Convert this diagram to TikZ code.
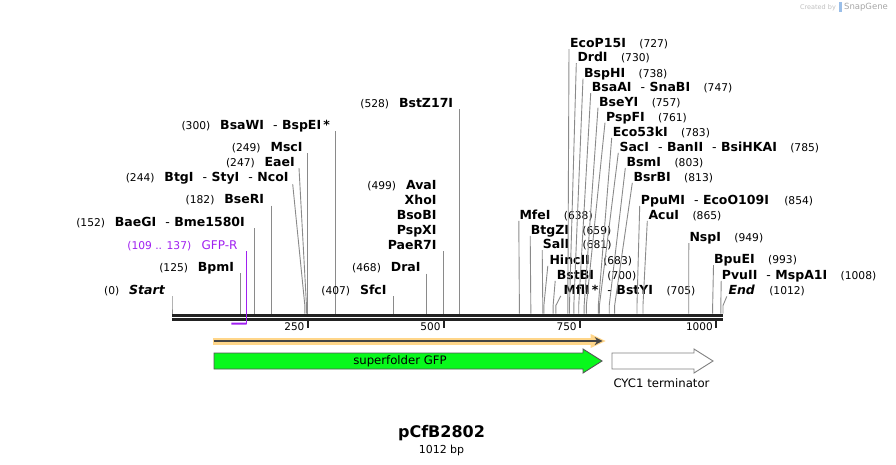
\documentclass[tikz,border=0pt]{standalone}
\usepackage{fontspec}
\setmainfont{DejaVu Sans}[ItalicFont={DejaVu Sans Oblique},BoldItalicFont={DejaVu Sans Bold Oblique}]
\usetikzlibrary{positioning,calc,arrows.meta}

\definecolor{sitegray}{HTML}{8A8A8A}
\definecolor{bbdark}{HTML}{222222}
\definecolor{primerpurple}{RGB}{160,32,240}
\definecolor{gfpgreen}{HTML}{08F81C}
\definecolor{orfband}{HTML}{FFD68A}
\definecolor{arrowgray}{HTML}{555555}

\newcommand{\dsh}{\hspace{9pt}{\mdseries -}\hspace{4.5pt}}

\begin{document}
\begin{tikzpicture}[x=1pt,y=-1pt,>=Stealth,
  enz/.style={font=\fontsize{12.5}{14}\selectfont\bfseries,inner sep=0pt},
  enzL/.style={enz,anchor=base east},
  enzR/.style={enz,anchor=base west},
  num/.style={font=\fontsize{10.7}{13}\selectfont,inner sep=0pt},
  primertxt/.style={text=primerpurple,inner sep=0pt},
  cut/.style={draw=sitegray,line width=0.9pt,
    to path={-- ([yshift=8pt]\tikztotarget) -- (\tikztotarget)}},
  tickmark/.style={draw=bbdark,line width=2pt},
  ticklab/.style={font=\fontsize{10.5}{13}\selectfont,inner sep=0pt,anchor=east},
  feat/.style={font=\fontsize{11.7}{14}\selectfont,inner sep=0pt}]

\useasboundingbox (0,0) rectangle (896,464);

%------------------------
% Backbone, 1012 bp
%------------------------
\coordinate (bbL) at (172,313.5);
\coordinate (bbR) at (723,313.5);
\foreach \p in {0,77,109,125,137,152,182,244,247,249,250,300,407,468,499,500,528,
  638,659,681,683,700,705,727,730,738,747,750,757,761,783,785,791,803,807,813,
  854,865,949,993,1000,1008,1012}
  \coordinate (p\p) at ($(bbL)!\p/1012!(bbR)$);

\draw[bbdark,line width=3pt] ([yshift=-1.5pt]bbL) -- ([yshift=-1.5pt]bbR);
\draw[bbdark,line width=2.5pt] ([yshift=-6.2pt]bbL) -- ([yshift=-6.2pt]bbR);

% ticks
\foreach \t in {250,500,750,1000} {
  \draw[tickmark] ([yshift=-7pt]p\t) -- ++(0,7);
  \node[ticklab] (tk\t) at ($(p\t)+(-3.5,13.5)$) {\t};
}

%------------------------
% Sites, left side
%------------------------
\node[enzL] (start) at (165,294.4) {\itshape Start};
\node[num,base left=9.5pt of start] (n0) {(0)};
\draw[cut] ($(p0 |- start.base)+(0,2)$) to (p0);

\node[enzL] (bpmi) at (234.3,271.1) {BpmI};
\node[num,base left=9.5pt of bpmi] (n125) {(125)};
\draw[cut] ($(p125 |- bpmi.base)+(0,2)$) to (p125);

\node[enzL] (baegi) at (245,226.1) {BaeGI\dsh Bme1580I};
\node[num,base left=9.5pt of baegi] (n152) {(152)};
\draw[cut] ($(p152 |- baegi.base)+(0,2)$) to (p152);

\node[enzL] (bseri) at (264.3,203.7) {BseRI};
\node[num,base left=9.5pt of bseri] (n182) {(182)};
\draw[cut] ($(p182 |- bseri.base)+(0,2)$) to (p182);

\node[enzL] (btgi) at (288.7,181.1) {BtgI\dsh StyI\dsh NcoI};
\node[num,base left=9.5pt of btgi] (n244) {(244)};
\draw[cut] ($(btgi.base east)+(4,3)$) to (p244);

\node[enzL] (eaei) at (295,166.1) {EaeI};
\node[num,base left=9.5pt of eaei] (n247) {(247)};
\draw[cut] ($(eaei.base east)+(4,2)$) to (p247);

\node[enzL] (msci) at (302.7,151.1) {MscI};
\node[num,base left=9.5pt of msci] (n249) {(249)};
\draw[cut] ($(p249 |- msci.base)+(0,2)$) to (p249);

\node[enzL] (bsawi) at (330,129.4) {BsaWI\dsh BspEI\,*};
\node[num,base left=9.5pt of bsawi] (n300) {(300)};
\draw[cut] ($(p300 |- bsawi.base)+(0,2)$) to (p300);

\node[enzL] (sfci) at (386.7,294.4) {SfcI};
\node[num,base left=9.5pt of sfci] (n407) {(407)};
\draw[cut] ($(p407 |- sfci.base)+(0,2)$) to (p407);

\node[enzL] (drai) at (420.7,271.7) {DraI};
\node[num,base left=9.5pt of drai] (n468) {(468)};
\draw[cut] ($(p468 |- drai.base)+(0,2)$) to (p468);

% five names on one site
\node[enzL] (avai) at (436.7,189.4) {AvaI};
\node[enzL] (xhoi) at ([yshift=-15pt]avai.base east) {XhoI};
\node[enzL] (bsobi) at ([yshift=-15pt]xhoi.base east) {BsoBI};
\node[enzL] (pspxi) at ([yshift=-15pt]bsobi.base east) {PspXI};
\node[enzL] (paer) at ([yshift=-15pt]pspxi.base east) {PaeR7I};
\node[num,base left=9.5pt of avai] (n499) {(499)};
\draw[cut] ($(p499 |- paer.base)+(0,2)$) to (p499);

\node[enzL] (bstz) at (453.3,107.1) {BstZ17I};
\node[num,base left=9.5pt of bstz] (n528) {(528)};
\draw[cut] ($(p528 |- bstz.base)+(0,2)$) to (p528);

%------------------------
% Primer GFP-R
%------------------------
\node[primertxt,font=\fontsize{12}{14}\selectfont,anchor=base east] (gfpr) at (237.7,249.4) {GFP-R};
\node[primertxt,font=\fontsize{10.7}{13}\selectfont,base left=10pt of gfpr] (npr) {(109 .. 137)};
\draw[primerpurple,line width=1.3pt] ($(p137 |- gfpr.base)+(0,2)$) -- ([yshift=-10pt]p137);
\draw[primerpurple,line width=2pt] ([yshift=-10pt]p109) -- ([yshift=-10pt]p137);

%------------------------
% Sites, right side
%------------------------
\node[enzR] (mfei) at (519.3,219.4) {MfeI};
\node[num,base right=13pt of mfei] (n638) {(638)};
\draw[cut] ($(mfei.base west)+(-0.5,1.5)$) to (p638);

\node[enzR] (btgzi) at (530.7,234.4) {BtgZI};
\node[num,base right=13pt of btgzi] (n659) {(659)};
\draw[cut] ($(btgzi.base west)+(-0.5,1.5)$) to (p659);

\node[enzR] (sali) at (542.7,248.7) {SalI};
\node[num,base right=13pt of sali] (n681) {(681)};
\draw[cut] ($(sali.base west)+(-0.5,1.5)$) to (p681);

\node[enzR] (hincii) at (549.3,264.4) {HincII};
\node[num,base right=13pt of hincii] (n683) {(683)};
\draw[cut] ($(hincii.base west)+(-1.5,1.5)$) to (p683);

\node[enzR] (bstbi) at (556.7,279.4) {BstBI};
\node[num,base right=13pt of bstbi] (n700) {(700)};
\draw[cut] ($(bstbi.base west)+(-1.5,1.5)$) to (p700);

\node[enzR] (mfli) at (563.3,294.4) {MflI\,*\dsh BstYI};
\node[num,base right=13pt of mfli] (n705) {(705)};
\draw[cut] ($(mfli.base west)+(-2.5,1.5)$) to (p705);

\node[enzR] (ecop) at (570,47.7) {EcoP15I};
\node[num,base right=13pt of ecop] (n727) {(727)};
\draw[cut] ($(ecop.base west)+(-1,1.5)$) to (p727);

\node[enzR] (drdi) at (577.3,61.7) {DrdI};
\node[num,base right=13pt of drdi] (n730) {(730)};
\draw[cut] ($(drdi.base west)+(-1,1.5)$) to (p730);

\node[enzR] (bsphi) at (584,77.1) {BspHI};
\node[num,base right=13pt of bsphi] (n738) {(738)};
\draw[cut] ($(bsphi.base west)+(-1,1.5)$) to (p738);

\node[enzR] (bsaai) at (591.7,91.7) {BsaAI\dsh SnaBI};
\node[num,base right=13pt of bsaai] (n747) {(747)};
\draw[cut] ($(bsaai.base west)+(-1,1.5)$) to (p747);

\node[enzR] (bseyi) at (599,106.1) {BseYI};
\node[num,base right=13pt of bseyi] (n757) {(757)};
\draw[cut] ($(bseyi.base west)+(-1,1.5)$) to (p757);

\node[enzR] (pspfi) at (606,121.1) {PspFI};
\node[num,base right=13pt of pspfi] (n761) {(761)};
\draw[cut] ($(pspfi.base west)+(-1,1.5)$) to (p761);

\node[enzR] (eco53) at (612.7,136.3) {Eco53kI};
\node[num,base right=13pt of eco53] (n783) {(783)};
\draw[cut] ($(eco53.base west)+(-1,1.5)$) to (p783);

\node[enzR] (saci) at (619.3,151.3) {SacI\dsh BanII\dsh BsiHKAI};
\node[num,base right=13pt of saci] (n785) {(785)};
\draw[cut] ($(saci.base west)+(-1,1.5)$) to (p785);

\node[enzR] (bsmi) at (626.3,166.5) {BsmI};
\node[num,base right=13pt of bsmi] (n803) {(803)};
\draw[cut] ($(bsmi.base west)+(-1,1.5)$) to (p803);

\node[enzR] (bsrbi) at (633.3,181.4) {BsrBI};
\node[num,base right=13pt of bsrbi] (n813) {(813)};
\draw[cut] ($(bsrbi.base west)+(-1,1.5)$) to (p813);

\node[enzR] (ppumi) at (640.7,204.4) {PpuMI\dsh EcoO109I};
\node[num,base right=15pt of ppumi] (n854) {(854)};
\draw[cut] ($(ppumi.base west)+(-1,1.5)$) to (p854);

\node[enzR] (acui) at (648.3,219.4) {AcuI};
\node[num,base right=13pt of acui] (n865) {(865)};
\draw[cut] ($(acui.base west)+(-1,1.5)$) to (p865);

\node[enzR] (nspi) at (689.3,241.7) {NspI};
\node[num,base right=13pt of nspi] (n949) {(949)};
\draw[cut] ($(nspi.base west)+(-0.5,1.5)$) to (p949);

\node[enzR] (bpuei) at (714,263.7) {BpuEI};
\node[num,base right=13pt of bpuei] (n993) {(993)};
\draw[cut] ($(bpuei.base west)+(-0.5,1.5)$) to (p993);

\node[enzR] (pvuii) at (721.7,279.4) {PvuII\dsh MspA1I};
\node[num,base right=13pt of pvuii] (n1008) {(1008)};
\draw[cut] ($(pvuii.base west)+(-0.5,1.5)$) to (p1008);

\node[enzR] (endl) at (728.3,294.4) {\itshape End};
\node[num,base right=14pt of endl] (n1012) {(1012)};
\draw[cut] ($(endl.base west)+(-1.5,2)$) to (p1012);

%------------------------
% Features
%------------------------
\coordinate (orfA) at ($(p77)+(0,27.5)$);
\coordinate (orfB) at ($(p791)+(0,27.5)$);
\draw[orfband,line width=7pt] ([xshift=-1pt]orfA) -- ([xshift=-6pt]orfB);
\fill[orfband] ([xshift=-12pt,yshift=7pt]orfB) -- ([xshift=3pt]orfB) -- ([xshift=-12pt,yshift=-7pt]orfB) -- cycle;
\draw[arrowgray!80!black,line width=2pt,-{Stealth[length=8pt,width=8pt]}] (orfA) -- (orfB);

\draw[arrowgray,fill=gfpgreen,line width=0.9pt]
  (214,353) -- (583,353) -- (583,349) -- (602,361) -- (583,373) -- (583,369) -- (214,369) -- cycle;
\node[feat] (gfptxt) at (400,361) {superfolder GFP};

\draw[black!50,fill=white,line width=0.9pt]
  (612,353) -- (694,353) -- (694,349) -- (713,361) -- (694,373) -- (694,369) -- (612,369) -- cycle;
\node[feat] (cyctxt) at (661.5,383) {CYC1 terminator};

%------------------------
% Title
%------------------------
\node[font=\fontsize{16}{18}\selectfont\bfseries,inner sep=0pt] (title) at (441.5,433) {pCfB2802};
\node[font=\fontsize{11}{13}\selectfont,inner sep=0pt,below=4pt of title] (size) {1012 bp};

% watermark
\node[text=black!25,font=\fontsize{6.5}{8}\selectfont,inner sep=0pt] (wm1) at (818,7.5) {Created by};
\node[text=black!35,font=\fontsize{8.5}{10}\selectfont,inner sep=0pt] (wm2) at (866,7.5) {SnapGene};
\fill[cyan!60!blue!40] (839,2) rectangle (842,12);

\end{tikzpicture}
\end{document}
